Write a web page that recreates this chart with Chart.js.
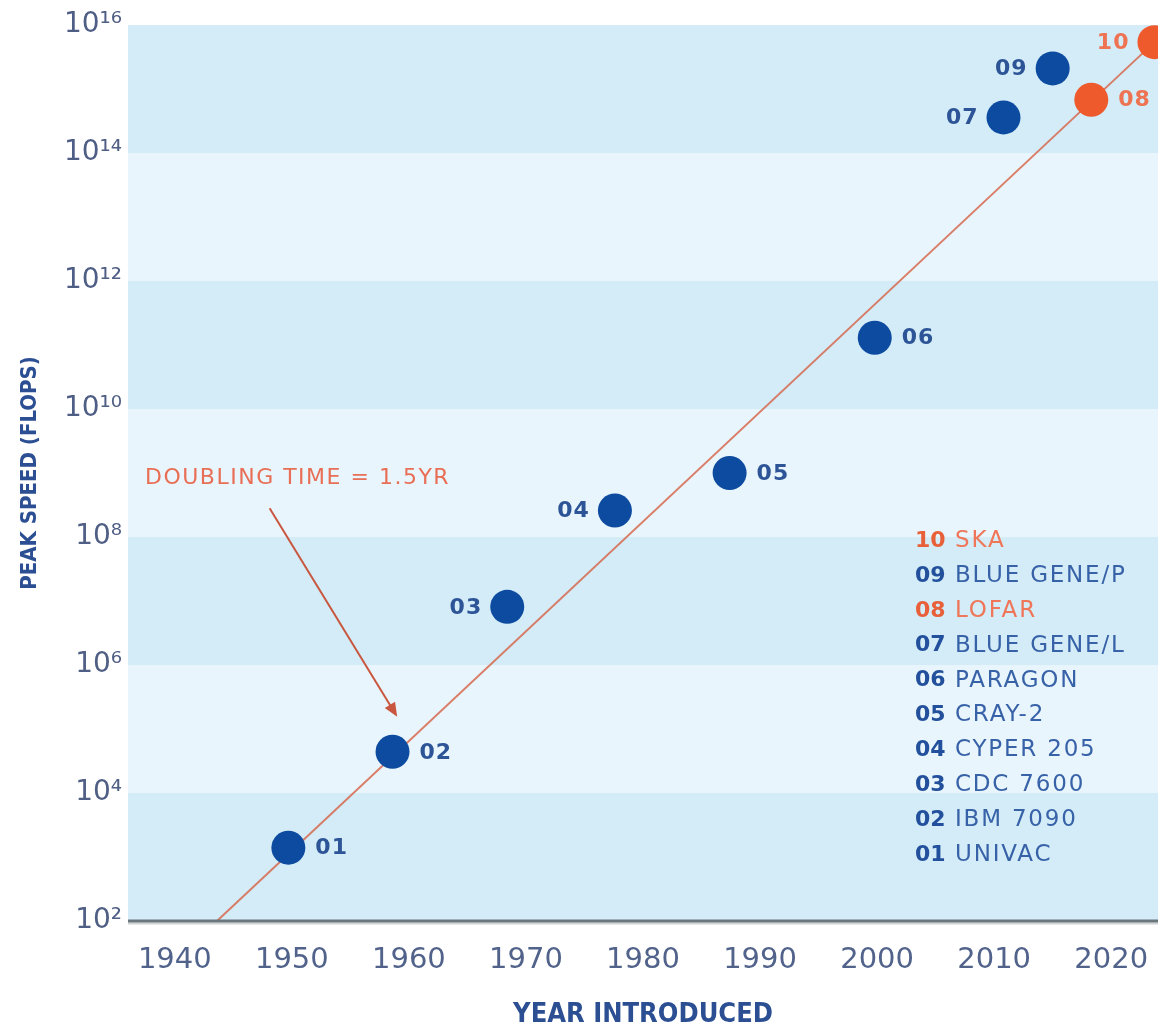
<!DOCTYPE html>
<html>
<head>
<meta charset="utf-8">
<title>Peak speed by year introduced</title>
<script src="https://cdn.jsdelivr.net/npm/chart.js@4.4.1/dist/chart.umd.min.js"></script>
<style>
  html, body { margin: 0; padding: 0; background: #ffffff; overflow: hidden; }
  #wrap { position: relative; width: 1158px; height: 1031px; overflow: hidden; }
  #speed { display: block; }
</style>
</head>
<body>
<div id="wrap"><canvas id="speed"></canvas></div>
<script>
// Machines, in order of their code number
const codes  = ['01', '02', '03', '04', '05', '06', '07', '08', '09', '10'];
const names  = ['UNIVAC', 'IBM 7090', 'CDC 7600', 'CYPER 205', 'CRAY-2',
                'PARAGON', 'BLUE GENE/L', 'LOFAR', 'BLUE GENE/P', 'SKA'];
const years  = [1949.7, 1958.6, 1968.4, 1977.6, 1987.4, 1999.8, 2010.8, 2018.3, 2015.0, 2023.7];
const flops  = [1.4e3, 4.4e4, 8.1e6, 2.6e8, 1.0e9, 1.3e11, 3.6e14, 6.8e14, 2.1e15, 5.4e15];
const radio  = [false, false, false, false, false, false, false, true, false, true];

// Axis ticks
const yearTicks = [1940, 1950, 1960, 1970, 1980, 1990, 2000, 2010, 2020];
const exponents = [2, 4, 6, 8, 10, 12, 14, 16];

// Trend line (doubling every 1.5 years)
const trendYears = [1943.6, 2023.7];
const trendFlops = [1e2, 5.4e15];
const trendNote  = 'DOUBLING TIME = 1.5YR';

// ---- presentation ----
const BLUE = '#0c4b9f';
const ORANGE = '#ee5a2c';
const LABEL_BLUE = '#2d5496';
const LABEL_ORANGE = '#ee7352';
const FONT = '"DejaVu Sans", "Liberation Sans", sans-serif';
const FONT_NARROW = '"DejaVu Sans Condensed", "Liberation Sans Narrow", "DejaVu Sans", sans-serif';

// which side of its dot each code label sits on
const labelOnLeft = { '03': true, '04': true, '07': true, '09': true, '10': true };

const SUP = { '0': '\u2070', '1': '\u00b9', '2': '\u00b2', '3': '\u00b3', '4': '\u2074',
              '5': '\u2075', '6': '\u2076', '7': '\u2077', '8': '\u2078', '9': '\u2079' };
const powerLabel = e => '10' + String(e).split('').map(d => SUP[d]).join('');

const points = years.map((y, i) => ({ x: y, y: flops[i] }));
const trend = trendYears.map((y, i) => ({ x: y, y: trendFlops[i] }));

const decor = {
  id: 'decor',
  beforeDatasetsDraw(chart) {
    const { ctx, chartArea: a, scales: { y } } = chart;
    ctx.save();
    for (let i = 0; i < exponents.length - 1; i++) {
      const top = y.getPixelForValue(Math.pow(10, exponents[i + 1]));
      const bot = y.getPixelForValue(Math.pow(10, exponents[i]));
      ctx.fillStyle = (i % 2 === 0) ? '#d3ecf8' : '#e9f5fc';
      ctx.fillRect(a.left, top, a.right - a.left, bot - top);
    }
    ctx.restore();
  },
  afterDatasetsDraw(chart) {
    const { ctx, chartArea: a, scales: { x, y } } = chart;
    ctx.save();

    // baseline axis
    ctx.strokeStyle = 'rgba(120,130,135,0.35)';
    ctx.lineWidth = 2;
    ctx.beginPath(); ctx.moveTo(a.left, a.bottom + 2.5); ctx.lineTo(a.right, a.bottom + 2.5); ctx.stroke();
    ctx.strokeStyle = '#6b777c';
    ctx.lineWidth = 3;
    ctx.beginPath(); ctx.moveTo(a.left, a.bottom); ctx.lineTo(a.right, a.bottom); ctx.stroke();

    // code labels beside each dot
    const meta = chart.getDatasetMeta(0);
    ctx.font = 'bold 22px ' + FONT;
    ctx.letterSpacing = '1px';
    ctx.textBaseline = 'middle';
    meta.data.forEach((pt, i) => {
      const left = !!labelOnLeft[codes[i]];
      ctx.fillStyle = radio[i] ? LABEL_ORANGE : LABEL_BLUE;
      ctx.textAlign = left ? 'right' : 'left';
      ctx.fillText(codes[i], pt.x + (left ? -25 : 27), pt.y + 1);
    });

    // key, highest code first
    const keyX = 915, keyTop = 541, keyStep = 34.9;
    for (let k = 0; k < codes.length; k++) {
      const i = codes.length - 1 - k;
      const yy = keyTop + k * keyStep;
      ctx.textAlign = 'left';
      ctx.letterSpacing = '0px';
      ctx.font = 'bold 22px ' + FONT;
      ctx.fillStyle = radio[i] ? '#e8603a' : '#22509c';
      ctx.fillText(codes[i], keyX, yy);
      ctx.letterSpacing = '1.8px';
      ctx.font = '23px ' + FONT;
      ctx.fillStyle = radio[i] ? '#ef7658' : '#3862a8';
      ctx.fillText(names[i], keyX + 40, yy);
    }

    // trend note with arrow
    const noteX = x.getPixelForValue(1937.45);
    const noteY = y.getPixelForValue(Math.pow(10, 8.92));
    ctx.letterSpacing = '1.5px';
    ctx.font = '22px ' + FONT;
    ctx.fillStyle = '#e86f56';
    ctx.textAlign = 'left';
    ctx.fillText(trendNote, noteX, noteY);
    ctx.letterSpacing = '0px';

    const ax0 = x.getPixelForValue(1948.1), ay0 = y.getPixelForValue(Math.pow(10, 8.45));
    const ax1 = x.getPixelForValue(1959.0), ay1 = y.getPixelForValue(Math.pow(10, 5.19));
    const ang = Math.atan2(ay1 - ay0, ax1 - ax0);
    ctx.strokeStyle = '#c9573f';
    ctx.fillStyle = '#c9573f';
    ctx.lineWidth = 2;
    ctx.beginPath();
    ctx.moveTo(ax0, ay0);
    ctx.lineTo(ax1 - 10 * Math.cos(ang), ay1 - 10 * Math.sin(ang));
    ctx.stroke();
    ctx.beginPath();
    ctx.moveTo(ax1, ay1);
    ctx.lineTo(ax1 - 14 * Math.cos(ang) + 6 * Math.sin(ang), ay1 - 14 * Math.sin(ang) - 6 * Math.cos(ang));
    ctx.lineTo(ax1 - 14 * Math.cos(ang) - 6 * Math.sin(ang), ay1 - 14 * Math.sin(ang) + 6 * Math.cos(ang));
    ctx.closePath();
    ctx.fill();

    ctx.restore();
  }
};

new Chart(document.getElementById('speed'), {
  type: 'scatter',
  data: {
    datasets: [
      {
        label: 'Peak speed',
        data: points,
        backgroundColor: radio.map(r => r ? ORANGE : BLUE),
        borderColor: radio.map(r => r ? ORANGE : BLUE),
        borderWidth: 0,
        pointRadius: 17,
        pointHoverRadius: 17,
        clip: false
      },
      {
        label: 'Trend',
        data: trend,
        showLine: true,
        borderColor: 'rgba(214, 104, 78, 0.85)',
        borderWidth: 2,
        pointRadius: 0,
        pointHoverRadius: 0,
        clip: false
      }
    ]
  },
  options: {
    responsive: true,
    maintainAspectRatio: false,
    devicePixelRatio: 1,
    animation: false,
    events: [],
    layout: { autoPadding: false, padding: { top: 25, left: 0, right: 0, bottom: 0 } },
    plugins: { legend: { display: false }, tooltip: { enabled: false } },
    scales: {
      x: {
        type: 'linear',
        min: 1936,
        max: 2024,
        grid: { display: false, drawTicks: false },
        border: { display: false },
        afterBuildTicks: s => { s.ticks = yearTicks.map(v => ({ value: v })); },
        afterFit: s => { s.height = 110; s.paddingLeft = 0; s.paddingRight = 0; },
        ticks: {
          autoSkip: false,
          maxRotation: 0,
          padding: 22,
          color: '#52638b',
          font: { family: FONT, size: 29 },
          callback: v => String(v)
        },
        title: {
          display: true,
          text: 'YEAR INTRODUCED',
          color: '#2b4f92',
          font: { family: FONT_NARROW, size: 27, weight: 'bold' },
          padding: { top: 0, bottom: 0 }
        }
      },
      y: {
        type: 'logarithmic',
        min: 1e2,
        max: 1e16,
        grid: { display: false, drawTicks: false },
        border: { display: false },
        afterBuildTicks: s => { s.ticks = exponents.map(e => ({ value: Math.pow(10, e) })); },
        afterFit: s => { s.width = 128; },
        ticks: {
          autoSkip: false,
          padding: 6,
          color: '#4f5e84',
          font: { family: FONT, size: 28 },
          callback: v => powerLabel(Math.round(Math.log10(v)))
        },
        title: {
          display: true,
          text: 'PEAK SPEED (FLOPS)',
          color: '#2b4f92',
          font: { family: FONT_NARROW, size: 22, weight: 'bold' },
          padding: { top: 17, bottom: 0 }
        }
      }
    }
  },
  plugins: [decor]
});
</script>
</body>
</html>
